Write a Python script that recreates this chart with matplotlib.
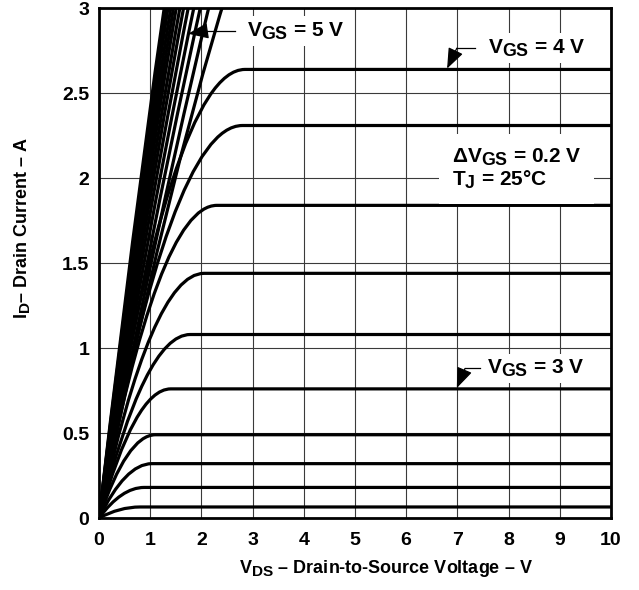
import numpy as np
import matplotlib
matplotlib.use('Agg')
import matplotlib.pyplot as plt
import matplotlib._mathtext as mt
from matplotlib.path import Path
from matplotlib.patches import PathPatch

mt.SHRINK_FACTOR = 0.85  # datasheet subscripts are nearly full size
plt.rcParams.update({'font.family': 'Liberation Sans', 'font.weight': 'bold', 'font.size': 14,
    'axes.labelweight': 'bold',
    'mathtext.fontset': 'custom', 'mathtext.rm': 'Liberation Sans:bold',
    'mathtext.it': 'Liberation Sans:bold', 'mathtext.bf': 'Liberation Sans:bold'})

# gate voltage steps (0.2 V) and the read-off saturation current / knee voltage of each curve
VGS = [2.2, 2.4, 2.6, 2.8, 3.0, 3.2, 3.4, 3.6, 3.8, 4.0,
       4.2, 4.4, 4.6, 4.8, 5.0, 5.2, 5.4, 5.6, 5.8, 6.0, 6.2, 6.4, 6.6]
I_SAT = [0.065, 0.18, 0.32, 0.49, 0.76, 1.08, 1.44, 1.84, 2.31, 2.64,
         5.4, 9.1, 9.1, 9.1, 9.1, 9.1, 9.1, 9.1, 9.1, 9.1, 9.1, 9.1, 9.1]
V_KNEE = [0.8, 0.88, 1.03, 1.1, 1.4, 1.78, 2.05, 2.3, 2.8, 2.85,
          7.2, 11.8, 10.9, 10.2, 9.6, 9.1, 8.7, 8.3, 8.0, 7.7, 7.4, 7.2, 7.0]
V_MAX = 10
X_TICKS = list(range(0, 11))
Y_TICKS = [0, 0.5, 1, 1.5, 2, 2.5, 3]
Y_TICKLABELS = ['0', '0.5', '1', '1.5', '2', '2.5', '3']

fig = plt.figure(figsize=(6.39, 5.90), dpi=100)
ax = fig.add_axes([0.155, 0.122, 0.801, 0.864])
ax.set_xlim(0, 10); ax.set_ylim(0, 3)
ax.set_xticks(X_TICKS); ax.set_yticks(Y_TICKS); ax.set_yticklabels(Y_TICKLABELS)
ax.tick_params(length=0, labelsize=14)
ax.tick_params(axis='x', pad=10); ax.tick_params(axis='y', pad=7)
ax.grid(True, color='#3a3a3a', linewidth=0.8)
ax.set_axisbelow(True)
for s in ax.spines.values():
    s.set_linewidth(2)

# each curve: quadratic rise from origin to the knee, flat after
for isat, vk in zip(I_SAT, V_KNEE):
    verts = [(0, 0), (vk / 2, isat), (vk, isat), (V_MAX, isat)]
    codes = [Path.MOVETO, Path.CURVE3, Path.CURVE3, Path.LINETO]
    ax.add_patch(PathPatch(Path(verts, codes), facecolor='none', edgecolor='black',
                           linewidth=2.3, zorder=3, capstyle='butt', joinstyle='round'))

box = dict(facecolor='white', edgecolor='none', pad=3)
arr = dict(arrowstyle='-|>,head_length=0.9,head_width=0.35', color='black', lw=0.9,
           shrinkA=0, shrinkB=0)

def label(txt, tx, ty, hx, ex, tipx, tipy):
    ax.text(tx, ty, txt, fontsize=15, ha='left', va='center', bbox=box, zorder=5)
    ax.plot([hx, ex], [ty, ty], color='black', lw=0.9, zorder=5)
    ax.annotate('', xy=(tipx, tipy), xytext=(ex, ty), arrowprops=arr, zorder=5)

label(r'$\mathregular{V_{GS}}$ = 5 V', 2.89, 2.865, 2.66, 2.07, 1.74, 2.85)
label(r'$\mathregular{V_{GS}}$ = 4 V', 7.60, 2.765, 7.34, 6.99, 6.80, 2.645)
label(r'$\mathregular{V_{GS}}$ = 3 V', 7.58, 0.88, 7.44, 7.15, 6.99, 0.765)

ax.text(6.89, 2.055, '$\\Delta\\mathregular{V_{GS}}$ = 0.2 V\n$\\mathregular{T_J}$ = 25°C', fontsize=15,
        ha='left', va='center', linespacing=1.05, zorder=5,
        bbox=dict(facecolor='white', edgecolor='none', pad=9))

ax.set_xlabel(r'$\mathregular{V_{DS}}$ – Drain-to-Source Voltage – V', fontsize=13)
ax.set_ylabel(r'$\mathregular{I_D}$– Drain Current – A', fontsize=13)
ax.xaxis.set_label_coords(0.56, -0.078)
ax.yaxis.set_label_coords(-0.131, 0.57)

plt.savefig('out.png', dpi=100)
plt.close()
